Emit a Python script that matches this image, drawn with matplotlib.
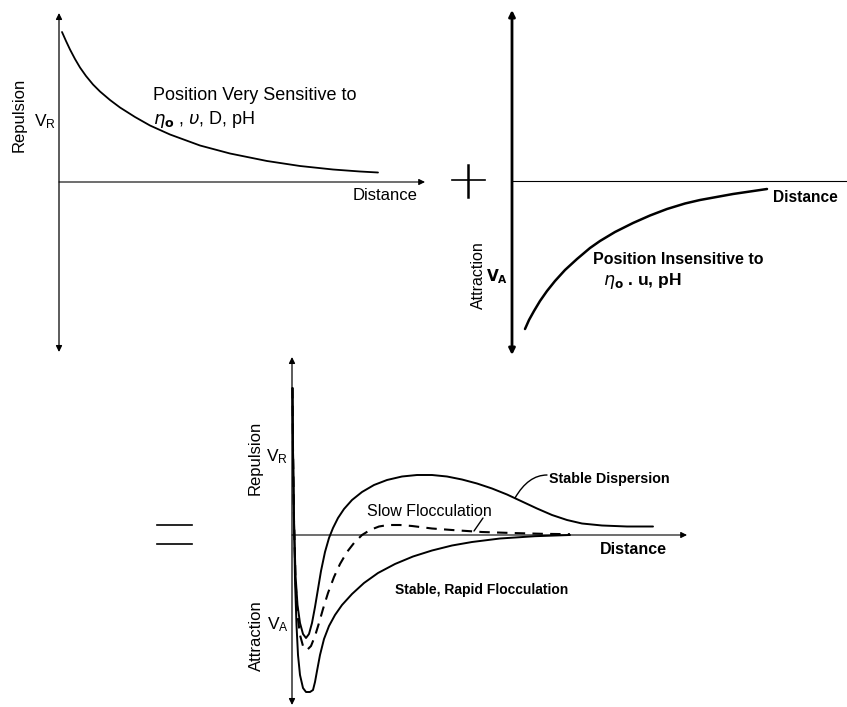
import matplotlib
matplotlib.use("Agg")
import matplotlib.pyplot as plt
from matplotlib.lines import Line2D

plt.rcParams['font.family'] = ['Liberation Sans', 'DejaVu Sans']
plt.rcParams['mathtext.fontset'] = 'dejavusans'

W, H = 847, 707

# ---- Repulsion potential V_R versus separation distance ----
rep_dist = [0.03, 0.07, 0.11, 0.16, 0.21, 0.27, 0.34, 0.41, 0.51, 0.61, 0.76, 0.91, 1.11,
            1.41, 1.71, 2.08, 2.41, 2.74, 3.01, 3.19]
rep_energy = [1.50, 1.41, 1.325, 1.23, 1.145, 1.06, 0.975, 0.905, 0.82, 0.745, 0.65, 0.565, 0.475,
              0.365, 0.285, 0.21, 0.16, 0.125, 0.105, 0.095]

# ---- Attraction potential V_A versus separation distance ----
att_dist = [0.13, 0.17, 0.22, 0.28, 0.35, 0.43, 0.53, 0.65, 0.78, 0.88, 1.03, 1.21, 1.38,
            1.55, 1.73, 1.88, 2.21, 2.55]
att_energy = [-1.48, -1.39, -1.30, -1.20, -1.10, -1.00, -0.89, -0.78, -0.67, -0.60, -0.51, -0.42, -0.345,
              -0.28, -0.225, -0.19, -0.13, -0.08]

# ---- Total potential: stable dispersion ----
stable_dist = [0.005, 0.01, 0.02, 0.035, 0.055, 0.08, 0.11, 0.14, 0.17, 0.20, 0.23, 0.26, 0.29,
               0.33, 0.37, 0.41, 0.46, 0.52, 0.60, 0.70, 0.82, 0.95, 1.10, 1.25, 1.40, 1.55,
               1.70, 1.85, 2.00, 2.15, 2.30, 2.45, 2.60, 2.75, 2.90, 3.10, 3.35, 3.61]
stable_energy = [1.47, 0.85, 0.15, -0.40, -0.70, -0.88, -0.99, -1.03, -0.99, -0.88, -0.72, -0.54, -0.36,
                 -0.17, -0.03, 0.07, 0.17, 0.26, 0.35, 0.43, 0.50, 0.55, 0.585, 0.60, 0.60, 0.585,
                 0.555, 0.515, 0.465, 0.405, 0.335, 0.265, 0.20, 0.15, 0.115, 0.095, 0.085, 0.085]

# ---- Total potential: slow flocculation ----
slow_dist = [0.005, 0.01, 0.02, 0.035, 0.055, 0.08, 0.11, 0.15, 0.19, 0.23, 0.27, 0.31, 0.36,
             0.42, 0.48, 0.55, 0.62, 0.70, 0.78, 0.87, 0.96, 1.08, 1.20, 1.40, 1.60, 1.90,
             2.20, 2.50, 2.78]
slow_energy = [1.47, 0.85, 0.15, -0.45, -0.80, -1.00, -1.11, -1.15, -1.11, -1.01, -0.88, -0.74, -0.58,
               -0.42, -0.29, -0.17, -0.08, 0.0, 0.05, 0.085, 0.10, 0.10, 0.09, 0.065, 0.05, 0.03,
               0.02, 0.012, 0.008]

# ---- Total potential: rapid flocculation ----
rapid_dist = [0.005, 0.01, 0.02, 0.03, 0.045, 0.06, 0.08, 0.11, 0.14, 0.18, 0.21, 0.23, 0.25,
              0.28, 0.32, 0.37, 0.43, 0.50, 0.60, 0.72, 0.86, 1.03, 1.21, 1.40, 1.60, 1.80,
              2.08, 2.43, 2.78]
rapid_energy = [1.47, 0.85, 0.15, -0.45, -0.90, -1.20, -1.40, -1.53, -1.57, -1.57, -1.55, -1.47, -1.36,
                -1.20, -1.04, -0.91, -0.80, -0.70, -0.59, -0.48, -0.38, -0.29, -0.215, -0.155, -0.105, -0.07,
                -0.035, -0.012, 0.0]

fig = plt.figure(figsize=(W / 100, H / 100), dpi=100)
fig.patch.set_facecolor('white')


def panel(x0, y0, xlim, ylim, s=100):
    """Axes whose data origin sits at pixel (x0, y0) with s pixels per unit."""
    left = (x0 + xlim[0] * s) / W
    width = (xlim[1] - xlim[0]) * s / W
    bottom = 1 - (y0 - ylim[0] * s) / H
    height = (ylim[1] - ylim[0]) * s / H
    ax = fig.add_axes([left, bottom, width, height])
    ax.set_xlim(*xlim)
    ax.set_ylim(*ylim)
    ax.set_axis_off()
    return ax


def arrow(ax, start, end, lw=0.9, style='-|>'):
    ax.annotate('', xy=end, xytext=start, annotation_clip=False,
                arrowprops=dict(arrowstyle=style, color='black', lw=lw,
                                mutation_scale=9, shrinkA=0, shrinkB=0))


# ---------------- top-left: repulsion ----------------
ax1 = panel(59, 182, (-0.6, 3.7), (-1.72, 1.72))
arrow(ax1, (0, -1.70), (0, 1.69), lw=0.9, style='<|-|>')
arrow(ax1, (0, 0), (3.66, 0), lw=0.8)
ax1.plot(rep_dist, rep_energy, color='black', lw=1.3, solid_capstyle='round',
         solid_joinstyle='round')
ax1.text(-0.40, 0.67, 'Repulsion', rotation=90, ha='center', va='center', fontsize=12)
ax1.text(-0.145, 0.60, r'$\mathregular{V_R}$', ha='center', va='center', fontsize=12.5)
ax1.text(0.94, 0.86, 'Position Very Sensitive to', ha='left', va='center', fontsize=13)
ax1.text(0.94, 0.62, r'$\eta_{\mathbf{o}}$ , $\upsilon$, D, pH', ha='left', va='center', fontsize=13)
ax1.text(3.26, -0.13, 'Distance', ha='center', va='center', fontsize=12)

# ---------------- top-right: attraction ----------------
ax2 = panel(512, 181, (-0.6, 3.35), (-1.76, 1.73))
arrow(ax2, (0, -1.74), (0, 1.71), lw=2.0, style='<|-|>')
ax2.plot([0, 3.35], [0, 0], color='black', lw=0.8)
ax2.plot(att_dist, att_energy, color='black', lw=1.8, solid_capstyle='round',
         solid_joinstyle='round')
ax2.text(-0.34, -0.94, 'Attraction', rotation=90, ha='center', va='center', fontsize=11.5)
ax2.text(-0.15, -0.96, r'$\mathbf{V_A}$', ha='center', va='center', fontsize=11)
ax2.text(0.81, -0.79, 'Position Insensitive to', ha='left', va='center', fontsize=11.5,
         fontweight='bold')
ax2.text(0.91, -1.00, r'$\eta_{\mathbf{o}}$ . u, pH', ha='left', va='center', fontsize=12.5,
         fontweight='bold')
ax2.text(2.93, -0.16, 'Distance', ha='center', va='center', fontsize=11.2, fontweight='bold')

# ---------------- bottom: total interaction energy ----------------
ax3 = panel(292, 535, (-0.8, 3.97), (-1.72, 1.80))
arrow(ax3, (0, -1.70), (0, 1.78), lw=0.9, style='<|-|>')
arrow(ax3, (0, 0), (3.95, 0), lw=0.8)
for d, e in ((stable_dist, stable_energy), (rapid_dist, rapid_energy)):
    ax3.plot(d, e, color='black', lw=1.4, solid_capstyle='round', solid_joinstyle='round')
ax3.plot(slow_dist, slow_energy, color='black', lw=1.5, linestyle=(0, (5, 3.5)))
ax3.text(-0.37, 0.77, 'Repulsion', rotation=90, ha='center', va='center', fontsize=12)
ax3.text(-0.15, 0.78, r'$\mathregular{V_R}$', ha='center', va='center', fontsize=12.5)
ax3.text(-0.36, -1.01, 'Attraction', rotation=90, ha='center', va='center', fontsize=12)
ax3.text(-0.14, -0.90, r'$\mathregular{V_A}$', ha='center', va='center', fontsize=12.5)
ax3.text(0.75, 0.23, 'Slow Flocculation', ha='left', va='center', fontsize=11.5)
ax3.text(2.57, 0.56, 'Stable Dispersion', ha='left', va='center', fontsize=10.3,
         fontweight='bold')
ax3.text(3.41, -0.14, 'Distance', ha='center', va='center', fontsize=11.5, fontweight='bold')
ax3.text(1.03, -0.55, 'Stable, Rapid Flocculation', ha='left', va='center', fontsize=10,
         fontweight='bold')
# leader lines tying labels to their curves
ax3.annotate('', xy=(2.23, 0.37), xytext=(2.55, 0.60), annotation_clip=False,
             arrowprops=dict(arrowstyle='-', color='black', lw=1.0, shrinkA=0, shrinkB=0,
                             connectionstyle='angle3,angleA=180,angleB=60'))
ax3.annotate('', xy=(1.82, 0.04), xytext=(1.91, 0.17), annotation_clip=False,
             arrowprops=dict(arrowstyle='-', color='black', lw=1.0, shrinkA=0, shrinkB=0))

# ---------------- operator signs between the panels ----------------
def px_line(xs, ys, lw):
    fig.add_artist(Line2D([x / W for x in xs], [1 - y / H for y in ys],
                          transform=fig.transFigure, color='black', lw=lw))


px_line([452, 485], [180, 180], 1.2)
px_line([468, 468], [165, 197], 1.8)
px_line([157, 192], [525, 525], 1.2)
px_line([157, 192], [544, 544], 1.2)

fig.savefig('out.png', dpi=100, facecolor='white')
